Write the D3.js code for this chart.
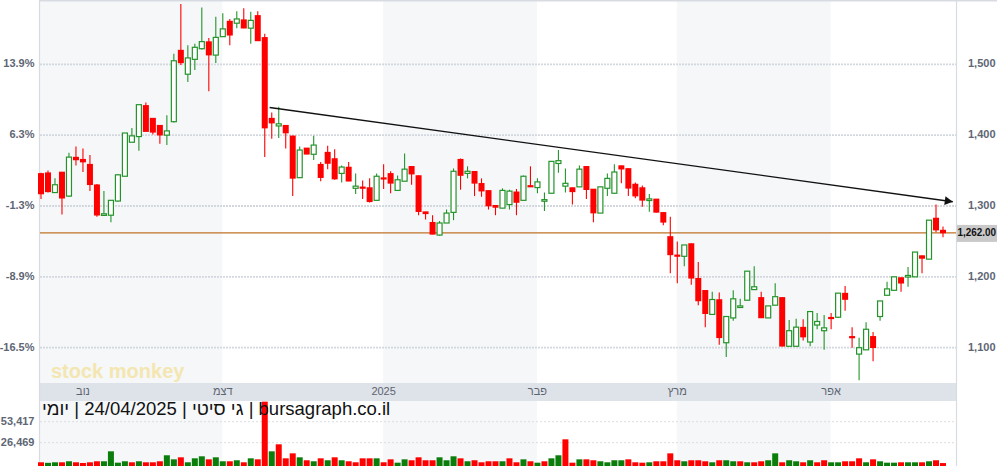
<!DOCTYPE html>
<html><head><meta charset="utf-8">
<script src="https://cdn.jsdelivr.net/npm/d3@7"></script>
<style>body{margin:0;background:#fff}svg{display:block;font-family:"Liberation Sans",Arial,sans-serif}</style>
</head><body><svg id="c" width="997" height="466"></svg>
<script>
const open=[1346,1347,1319,1348,1314,1369,1366,1359,1330,1287,1287,1307,1342,1390,1398,1442,1424,1414,1400,1419,1520,1486,1507,1522,1532,1513,1539,1561,1558,1563,1551,1569,1538,1424,1413,1414,1399,1340,1382,1373,1359,1376,1367,1346,1355,1325,1327,1326,1308,1340,1346,1322,1335,1356,1343,1292,1277,1259,1276,1291,1366,1346,1349,1332,1322,1301,1297,1302,1320,1308,1329,1326,1307,1318,1360,1328,1326,1327,1356,1324,1290,1325,1318,1357,1353,1331,1326,1308,1310,1291,1257,1231,1229,1247,1198,1181,1147,1168,1107,1142,1157,1167,1182,1171,1142,1160,1171,1102,1102,1129,1108,1132,1124,1143,1143,1177,1116,1091,1097,1116,1144,1174,1181,1199,1200,1200,1230,1225,1283,1266];
const high=[1347,1350,1339,1348,1375,1384,1381,1372,1331,1321,1308,1345,1403,1410,1443,1446,1424,1414,1428,1515,1585,1527,1529,1580,1537,1567,1572,1564,1575,1579,1574,1575,1543,1432,1440,1414,1399,1384,1382,1399,1362,1385,1380,1357,1362,1346,1336,1339,1346,1359,1349,1343,1374,1356,1343,1292,1287,1279,1295,1353,1367,1356,1349,1339,1322,1301,1325,1323,1324,1343,1356,1339,1319,1363,1379,1353,1326,1357,1356,1324,1327,1346,1359,1357,1353,1333,1329,1317,1310,1291,1285,1250,1245,1247,1221,1181,1179,1178,1144,1181,1169,1208,1215,1179,1159,1191,1171,1139,1141,1140,1151,1149,1146,1149,1177,1187,1129,1114,1136,1122,1166,1193,1200,1199,1214,1235,1230,1280,1302,1271];
const low=[1310,1319,1319,1288,1313,1357,1348,1321,1285,1286,1277,1306,1342,1390,1378,1405,1401,1388,1386,1418,1499,1475,1492,1521,1462,1502,1539,1527,1551,1551,1529,1533,1369,1395,1396,1381,1314,1340,1373,1365,1335,1352,1337,1333,1335,1317,1310,1305,1308,1324,1318,1321,1335,1330,1287,1281,1260,1258,1276,1280,1323,1339,1314,1313,1295,1287,1297,1295,1287,1308,1327,1318,1293,1318,1347,1319,1302,1327,1310,1277,1290,1314,1318,1332,1314,1311,1299,1292,1291,1273,1205,1191,1215,1189,1160,1129,1147,1104,1087,1138,1157,1167,1182,1142,1142,1160,1102,1102,1102,1110,1102,1126,1097,1126,1142,1152,1100,1054,1097,1081,1138,1174,1181,1179,1186,1200,1205,1225,1263,1256];
const close=[1317,1320,1330,1311,1369,1365,1362,1330,1287,1289,1308,1344,1403,1399,1443,1405,1404,1400,1406,1505,1502,1509,1524,1532,1513,1538,1550,1541,1564,1551,1562,1533,1410,1417,1416,1403,1339,1379,1373,1386,1340,1360,1338,1355,1335,1328,1326,1306,1342,1339,1332,1337,1352,1345,1292,1289,1260,1276,1290,1349,1343,1349,1332,1321,1300,1298,1322,1321,1305,1342,1327,1334,1309,1363,1364,1332,1320,1352,1323,1290,1327,1339,1348,1352,1325,1314,1308,1310,1291,1277,1231,1229,1245,1198,1166,1148,1168,1114,1144,1169,1159,1208,1186,1142,1159,1172,1102,1124,1129,1115,1151,1137,1128,1141,1177,1168,1115,1100,1126,1100,1166,1183,1200,1191,1202,1235,1226,1280,1266,1262];
const volume=[1300,600,1300,1300,2600,1300,400,1300,2600,2600,
15400,800,2600,1300,2600,1300,1300,2600,10300,5100,
7700,1300,6400,9000,5100,7700,2600,2600,3900,1300,
6400,5100,79200,15400,24400,6400,12800,7700,3900,2600,
6400,3900,7700,3900,2600,1300,6400,6400,6400,1300,
5100,800,5100,3900,7700,3900,3900,7700,3900,9000,
6400,2600,3900,1300,2600,2600,2600,6400,1300,5100,
2600,800,2600,6400,10300,30800,800,5100,5100,3900,
2600,1300,3900,3900,5100,1300,800,1300,2600,2600,
12800,3900,2600,3900,3900,2600,1300,3900,3900,2600,
2600,1300,1300,2600,3900,12800,1300,3900,2600,1300,
3900,1300,3900,1300,1300,2600,2600,6400,1300,5100,
2600,800,800,1300,1300,1300,1300,2600,3900,300];
const priceTicks=[1500,1400,1300,1200,1100];
const priceLabels=["1,500","1,400","1,300","1,200","1,100"];
const pctLabels=["13.9%","6.3%","-1.3%","-8.9%","-16.5%"];
const volTicks=[26469,53417];
const volLabels=["26,469","53,417"];
const monthTicks=[{label:"נוב",index:6},{label:"דצמ",index:26},{label:"2025",index:49},{label:"פבר",index:71},{label:"מרץ",index:91},{label:"אפר",index:113}];
const lastPrice=1262;
const lastLabel="1,262.00";
const trend=[{index:32.7,price:1439},{index:130.4,price:1306}];
const titleText="bursagraph.co.il | גי סיטי | 24/04/2025 | יומי";
const watermark="stock monkey";

const svg=d3.select("#c");
const L=40,R=956,T=1,PB=383,XB=401,VB=466;
const n=close.length;
const x=d3.scaleLinear().domain([0,n-1]).range([41,943]);
const y=d3.scaleLinear().domain([1100,1500]).range([347.7,64.3]);
const yv=d3.scaleLinear().domain([0,26469]).range([463.3,442.7]);
const RED="#ff0000",GREEN="#23942a",VGREEN="#0b7d0b";

svg.append("rect").attr("width",997).attr("height",466).attr("fill","#fff");
// month shading
const bounds=monthTicks.map(m=>x(m.index)-0.5);
const shades=[[L,bounds[1]],[bounds[2],bounds[3]],[bounds[4],bounds[5]]];
shades.forEach(s=>{
  svg.append("rect").attr("x",s[0]).attr("y",T).attr("width",s[1]-s[0]).attr("height",PB-T).attr("fill","#f5f7f9");
  svg.append("rect").attr("x",s[0]).attr("y",XB).attr("width",s[1]-s[0]).attr("height",VB-XB).attr("fill","#f5f7f9");
});
// price grid
svg.append("g").selectAll("line").data(priceTicks).join("line")
  .attr("x1",L).attr("x2",R).attr("y1",d=>y(d)).attr("y2",d=>y(d))
  .attr("stroke","#d3d7de").attr("stroke-width",1.8).attr("stroke-dasharray","2,1");
// volume grid
svg.append("g").selectAll("line").data(volTicks).join("line")
  .attr("x1",L).attr("x2",R).attr("y1",d=>yv(d)).attr("y2",d=>yv(d))
  .attr("stroke","#dadde3").attr("stroke-width",1).attr("stroke-dasharray","2,2");
// x axis band
svg.append("rect").attr("x",L).attr("y",PB).attr("width",R-L).attr("height",XB-PB).attr("fill","#dee2e9");
svg.append("g").selectAll("text").data(monthTicks).join("text")
  .attr("x",d=>x(d.index)).attr("y",392).attr("text-anchor","middle").attr("dominant-baseline","middle")
  .attr("font-size",11).attr("fill","#5c6470").text(d=>d.label);
// borders
svg.append("line").attr("x1",L).attr("x2",997).attr("y1",0.8).attr("y2",0.8).attr("stroke","#d8dce2").attr("stroke-width",1.6);
svg.append("line").attr("x1",L-0.5).attr("x2",L-0.5).attr("y1",0).attr("y2",VB).attr("stroke","#d8dce2").attr("stroke-width",1.2);
svg.append("line").attr("x1",R+0.5).attr("x2",R+0.5).attr("y1",0).attr("y2",VB).attr("stroke","#d8dce2").attr("stroke-width",1.2);
// watermark
svg.append("text").attr("x",51).attr("y",378).attr("font-size",20).attr("font-weight","bold")
  .attr("fill","#f4e4a4").attr("opacity",0.85).text(watermark);
// last price line
svg.append("line").attr("x1",L).attr("x2",R).attr("y1",y(lastPrice)).attr("y2",y(lastPrice))
  .attr("stroke","#bf7326").attr("stroke-width",1.2);
// candles
const idx=d3.range(n);
const cg=svg.append("g");
cg.selectAll("line.w").data(idx).join("line").attr("class","w")
  .attr("x1",i=>x(i)).attr("x2",i=>x(i)).attr("y1",i=>y(high[i])).attr("y2",i=>y(low[i]))
  .attr("stroke",i=>close[i]>=open[i]?GREEN:RED).attr("stroke-width",1.1);
cg.selectAll("rect.b").data(idx).join("rect").attr("class","b")
  .each(function(i){
    const up=close[i]>=open[i];
    const top=y(Math.max(open[i],close[i])), bot=y(Math.min(open[i],close[i]));
    const h=Math.max(bot-top,1.6);
    const s=d3.select(this);
    if(up){
      s.attr("x",x(i)-2.5).attr("y",top).attr("width",5).attr("height",h)
       .attr("fill","#fff").attr("stroke",GREEN).attr("stroke-width",1.2);
    } else {
      s.attr("x",x(i)-3).attr("y",top-0.3).attr("width",6).attr("height",h+0.6).attr("fill",RED);
    }
  });
// trend line
const tx1=x(trend[0].index),ty1=y(trend[0].price),tx2=x(trend[1].index),ty2=y(trend[1].price);
svg.append("line").attr("x1",tx1).attr("y1",ty1).attr("x2",tx2).attr("y2",ty2).attr("stroke","#111").attr("stroke-width",1.3);
const ang=Math.atan2(ty2-ty1,tx2-tx1)*180/Math.PI;
svg.append("path").attr("d","M0,0L-8,-4.5L-8,4.5Z").attr("fill","#111")
  .attr("transform",`translate(${tx2},${ty2}) rotate(${ang})`);
// volume bars
svg.append("g").selectAll("rect").data(idx).join("rect")
  .attr("x",i=>x(i)-3).attr("width",6)
  .attr("y",i=>yv(volume[i])).attr("height",i=>VB-yv(volume[i]))
  .attr("fill",i=>{const up=i===0?close[0]>=open[0]:close[i]>=close[i-1];return up?VGREEN:RED;});
// title
const tt=svg.append("text").attr("x",42).attr("y",415).attr("font-size",18.5).attr("fill","#111")
  .attr("direction","rtl").style("unicode-bidi","embed").text(titleText);
const bb=tt.node().getBBox();
tt.attr("x",42+(42-bb.x));
// left axis labels
svg.append("g").selectAll("text").data(priceTicks).join("text")
  .attr("x",34.5).attr("y",d=>y(d)).attr("text-anchor","end").attr("dominant-baseline","middle")
  .attr("font-size",11).attr("font-weight","bold").attr("fill","#5e6675").text((d,i)=>pctLabels[i]);
svg.append("g").selectAll("text").data(volTicks).join("text")
  .attr("x",34.5).attr("y",d=>yv(d)).attr("text-anchor","end").attr("dominant-baseline","middle")
  .attr("font-size",11).attr("font-weight","bold").attr("fill","#5e6675").text((d,i)=>volLabels[i]);
// right axis labels
svg.append("g").selectAll("text").data(priceTicks).join("text")
  .attr("x",968).attr("y",d=>y(d)).attr("dominant-baseline","middle")
  .attr("font-size",11).attr("font-weight","bold").attr("fill","#5e6675").text((d,i)=>priceLabels[i]);
// last price label
svg.append("rect").attr("x",957).attr("y",y(lastPrice)-8).attr("width",40).attr("height",17).attr("fill","#c9c9c9");
svg.append("text").attr("x",957.5).attr("y",y(lastPrice)+0.5).attr("dominant-baseline","middle")
  .attr("font-size",10.5).attr("font-weight","bold").attr("fill","#111")
  .attr("textLength",38.5).attr("lengthAdjust","spacingAndGlyphs").text(lastLabel);
</script></body></html>
